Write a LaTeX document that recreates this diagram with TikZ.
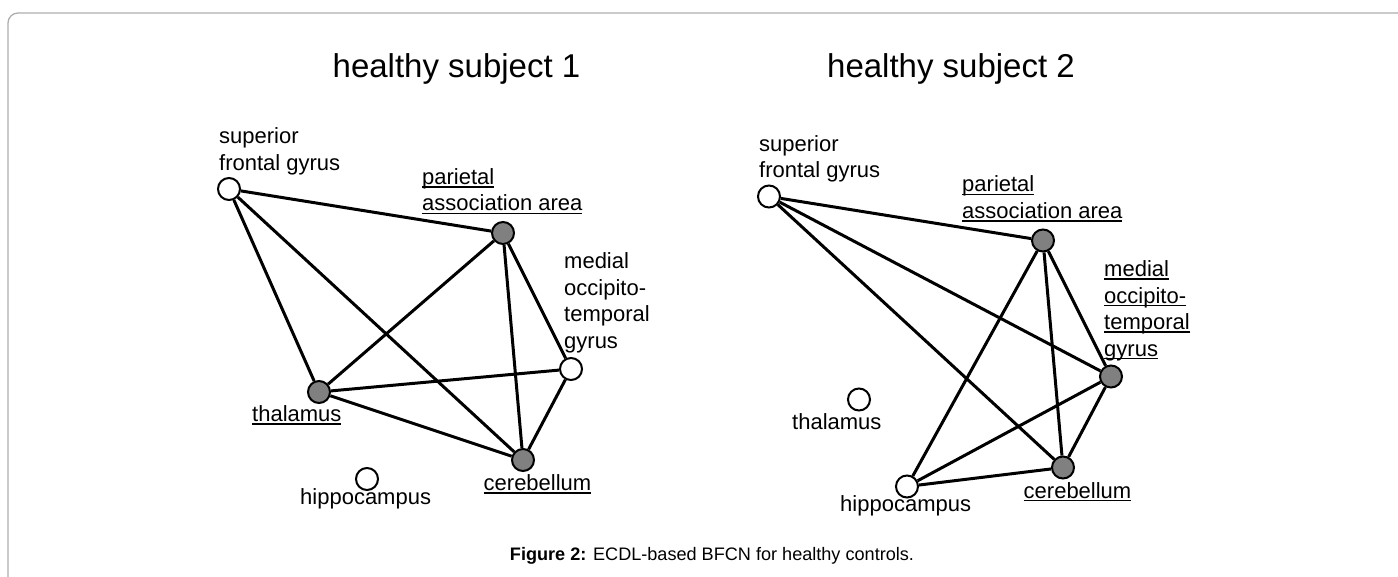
\documentclass[tikz,border=0pt]{standalone}
\usepackage{fontspec}
\setmainfont{Liberation Sans}
\newcommand{\ulbl}[1]{\setbox0=\hbox{#1}\rlap{\rule[-3.2pt]{\wd0}{1.6pt}}\box0}
\tikzset{
  region/.style={circle, draw=black, line width=2pt, minimum size=22pt, inner sep=0pt, fill=white},
  active/.style={region, fill=black!50},
  edge/.style={draw=black, line width=3pt},
  lbl/.style={anchor=base west, inner sep=0pt, align=left, font=\fontsize{22}{26.5}\selectfont},
  ttl/.style={anchor=base, inner sep=0pt, font=\fontsize{33}{38}\selectfont},
  captext/.style={anchor=base, inner sep=0pt, font=\fontsize{18.1}{21}\selectfont},
  frame/.style={draw=black!32, line width=1.3pt, rounded corners=10pt}
}
\begin{document}
\begin{tikzpicture}[x=1pt, y=-1pt]
\useasboundingbox (0,0) rectangle (1398,577);
\draw[frame] (8,577) -- (8,13) -- (1398,13);

% titles
\node[ttl] (t1) at (456.5,78) {healthy subject 1};
\node[ttl] (t2) at (951,78) {healthy subject 2};

% ---------- subject 1 ----------
\node[region] (Lsfg) at (229,189) {};
\node[active] (Lpaa) at (503,233) {};
\node[region] (Lmot) at (571,369) {};
\node[active] (Ltha) at (319,392) {};
\node[active] (Lcer) at (523,460) {};
\node[region] (Lhip) at (367,479) {};

\draw[edge] (Lsfg) -- (Lpaa);
\draw[edge] (Lsfg) -- (Ltha);
\draw[edge] (Lsfg) -- (Lcer);
\draw[edge] (Lpaa) -- (Ltha);
\draw[edge] (Lpaa) -- (Lcer);
\draw[edge] (Lpaa) -- (Lmot);
\draw[edge] (Ltha) -- (Lmot);
\draw[edge] (Ltha) -- (Lcer);
\draw[edge] (Lmot) -- (Lcer);

% multi-line labels are anchored at the baseline of their last line
\node[lbl] (Lsfgl) at (219,170.5) {superior\\frontal gyrus};
\node[lbl] (Lpaal) at (422,211) {\ulbl{parietal}\\\ulbl{association area}};
\node[lbl] (Lmotl) at (564,348.5) {medial\\occipito-\\temporal\\gyrus};
\node[lbl] (Lthal) at (252,421.7) {\ulbl{thalamus}};
\node[lbl] (Lcerl) at (483.5,490.7) {\ulbl{cerebellum}};
\node[lbl] (Lhipl) at (300,504) {hippocampus};

% ---------- subject 2 ----------
\begin{scope}[shift={(540,7.5)}]
\node[region] (Rsfg) at (229,189) {};
\node[active] (Rpaa) at (503,233) {};
\node[active] (Rmot) at (571,369) {};
\node[region] (Rtha) at (319,392) {};
\node[active] (Rcer) at (523,460) {};
\node[region] (Rhip) at (367,479) {};

\draw[edge] (Rsfg) -- (Rpaa);
\draw[edge] (Rsfg) -- (Rmot);
\draw[edge] (Rsfg) -- (Rcer);
\draw[edge] (Rpaa) -- (Rhip);
\draw[edge] (Rpaa) -- (Rcer);
\draw[edge] (Rpaa) -- (Rmot);
\draw[edge] (Rmot) -- (Rhip);
\draw[edge] (Rmot) -- (Rcer);
\draw[edge] (Rhip) -- (Rcer);

\node[lbl] (Rsfgl) at (219,170.5) {superior\\frontal gyrus};
\node[lbl] (Rpaal) at (422,211) {\ulbl{parietal}\\\ulbl{association area}};
\node[lbl] (Rmotl) at (564,348.5) {\ulbl{medial}\\\ulbl{occipito-}\\\ulbl{temporal}\\\ulbl{gyrus}};
\node[lbl] (Rthal) at (252,421.7) {thalamus};
\node[lbl] (Rcerl) at (483.5,490.7) {\ulbl{cerebellum}};
\node[lbl] (Rhipl) at (300,504) {hippocampus};
\end{scope}

% caption
\node[captext] (caption) at (712,560) {\textbf{Figure 2:} ECDL-based BFCN for healthy controls.};
\end{tikzpicture}
\end{document}
